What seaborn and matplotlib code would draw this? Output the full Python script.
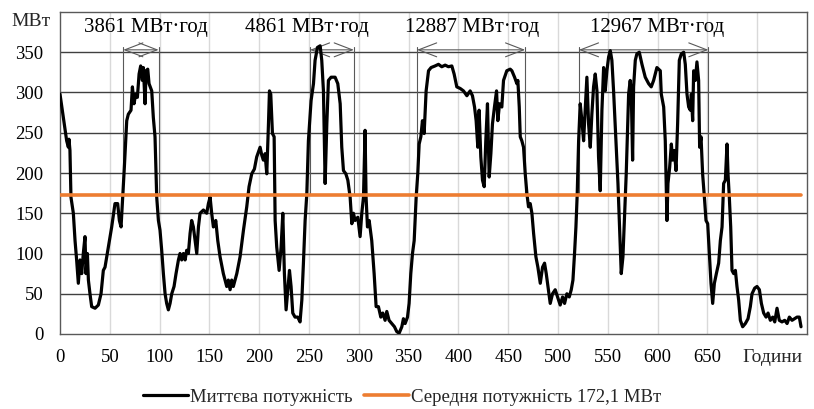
import numpy as np
import pandas as pd
import matplotlib
matplotlib.use("Agg")
import matplotlib.pyplot as plt
import seaborn as sns

# Hourly generation power over the month (hour, MW)
hours = [
    0, 3.4, 6.7, 8.4, 9, 10, 11, 13.4, 15.1, 16.7, 18.4, 20.1, 21.8, 23.4, 25.1, 26.1, 27.5, 28.5,
    30.1, 31.8, 35.2, 38.5, 41.2, 43.5, 45.2, 47.5, 49.2, 51.9, 55.2, 57.9, 59.6, 61.3, 63, 64.6,
    67, 68.6, 71.3, 72.7, 74.3, 76, 77.7, 79.4, 81, 82.7, 83.7, 85.4, 86.4, 88.1, 89.4, 92.1, 93.7,
    95.4, 97.1, 98.8, 100.4, 102.1, 103.8, 105.5, 107.1, 108.8, 110.5, 112.2, 114.5, 116.5, 118.9,
    120.5, 122.2, 123.9, 125.6, 127.2, 128.9, 130.6, 132.2, 133.9, 135.6, 137.3, 139, 140.6, 144,
    147.3, 149, 150.7,
    152.3, 154, 156.4, 158.4, 160.7, 164, 167.4, 169, 170.8, 172.4, 174, 177.5, 180.8, 184.2, 187.5,
    189.8, 192.5, 195.2, 197.5, 200.9, 202.6, 204.2, 205.9, 207.6, 209.3, 210.3, 211.6, 213.3, 215,
    216, 217.6, 220, 222, 223.7, 225.3, 227, 228.7, 230.4, 232, 233.7, 236, 238.7, 241, 242.8, 244.4,
    246.1, 247.8, 249.4, 252.1, 254.5, 256.1, 258.5, 261.2, 262.8, 264.5, 266.2, 267.9, 269.5, 272.2,
    276.2, 278.9, 281.3, 282.9, 284.6, 287, 289, 291.3, 293, 294.6, 296.3,
    299, 301.3, 303, 304.7, 306.3, 307.3, 308.7, 310.4, 313, 315.4, 317.4, 319.7, 322.1, 324.1, 326.4,
    328.1, 330.4, 333.1, 335.8, 338.1, 340.5, 343.2, 344.8, 346.5, 348.9, 350.5, 352.2, 353.9, 355.6,
    357.6, 359.2, 360.6, 362.3, 363.9, 365.6, 367.6, 370, 372.6, 376.6, 380, 383.3, 386.7, 390, 393.4,
    395.7, 398.4, 401.8, 405.1, 408.5, 411.8, 414.1, 416.2, 417.8, 419.5, 420.8, 422.5, 424.2, 425.9,
    427.5, 429.2, 430.9, 432.6, 434.2, 436.2, 438.3, 439.6, 441.3, 443.6, 445.3, 448.6, 452,
    453.7, 456.4, 458.7, 459.7, 461.1, 462.1, 463.7, 465.4, 467.1, 468.8, 470.4, 472.1, 473.8, 475.5,
    477.8, 479.8, 482.2, 484.5, 486.5, 488.2, 489.9, 492.2, 494.5, 497.2, 499.6, 502.2, 504.6, 506.6,
    508.9, 511.3, 513.3, 515, 516.6, 518, 519.3, 520.7, 522.3, 524, 525.7, 527.4, 529, 530.7, 532.4,
    534, 535.7, 537.4, 539.1, 540.7, 542.4, 544.1, 545.8, 547.4, 549.1, 550.8, 552.5, 554.1, 555.8,
    558.2, 560.2, 561.8, 563.5, 565.2, 566.9, 568.5, 570.9, 572.5, 573.6, 574.9, 575.9, 577.6, 579.2,
    581.6, 584.3, 587.6, 591, 593.6, 596, 599.3, 602.7,
    603.7, 606.1, 607.7, 609.4, 610.4, 612.1, 613.8, 615.1, 616.8, 618.5, 620.1, 621.8, 623.8, 626.2,
    627.8, 629.5, 631.2, 632.9, 633.9, 635.2, 636.2, 637.9, 639.5, 641.2, 642.2, 643.6, 645.2, 647.2,
    648.6, 650.3, 651.9, 653.6, 655.3, 657, 659, 661.3, 663, 664.7, 666.3, 668, 669.7, 670.7, 672,
    673.4, 674.7, 676.4, 678.1, 679.7, 681.4, 683.1, 685.4, 688.1, 690.8, 693.1, 694.8, 697.5, 699.8,
    702.2, 704.2, 706.5, 708.9, 710.9, 713.2, 715.6, 717.6, 719.9, 722.2, 724.9, 727.6, 730, 732.3,
    735, 737.6, 740, 742.3, 744,
]
power_mw = [
    298, 269, 240, 232, 242, 228, 170, 150, 116, 92, 63, 92, 75, 100, 121, 75, 100, 67,
    50, 34, 32, 36, 50, 79, 83, 100, 112, 133, 162, 162, 141, 133, 170, 207,
    265, 273, 278, 307, 286, 298, 294, 323, 333, 315, 331, 286, 327, 329, 311, 302, 269,
    245, 170, 141, 129, 104, 75, 50, 38, 30, 38, 50, 59, 75, 92,
    100, 92, 100, 92, 104, 100, 125, 141, 133, 116, 100, 133, 150, 154,
    150, 162, 170,
    150, 133, 141, 116, 96, 75, 59, 67, 55, 67, 59, 75, 96, 129, 158,
    183, 199, 205, 220, 232, 222, 216, 224, 199, 261, 302, 298, 249, 245,
    141, 108, 79, 108, 150, 75, 30, 55, 79, 59, 26, 21, 21, 15, 42, 88,
    141, 174, 240, 290, 311, 340, 356, 358, 340, 302, 187, 261, 315, 319,
    319, 311, 286, 232, 203, 199, 191, 170, 137, 150, 141,
    145, 121, 150, 170, 253, 170, 133, 141, 116, 75, 34, 34, 21, 26, 17,
    28, 17, 13, 9, 3, 1, 9, 19, 13, 21, 38, 75, 100, 116,
    170, 199, 236, 245, 265, 249, 302, 327, 331, 333, 335, 332, 334, 332, 333,
    323, 307, 305, 302, 296, 302, 296, 282, 265, 232, 278, 220, 191, 183,
    240, 286, 195, 224, 261, 282, 302, 265, 286, 282, 315, 327, 329,
    327, 319, 311, 315, 282, 245, 240, 232, 199, 174, 158, 162, 150, 125,
    96, 83, 63, 83, 88, 75, 59, 38, 50, 55, 46, 36, 46, 38,
    50, 46, 55, 67, 100, 133, 174, 240, 286, 265, 240, 282, 319, 261, 232,
    273, 307, 323, 302, 220, 178, 278, 331, 302, 327, 344, 352, 340, 302,
    240, 187, 133, 75, 96, 150, 199, 298, 315, 298, 216, 307, 340, 348,
    350, 335, 319, 311, 307, 315, 331, 327,
    298, 282, 240, 141, 187, 207, 236, 216, 228, 203, 261, 340, 348, 350,
    335, 298, 282, 278, 298, 265, 327, 315, 338, 315, 232, 245, 199, 166,
    141, 137, 100, 63, 38, 63, 75, 88, 116, 133, 187, 191, 236, 199, 170,
    133, 79, 75, 79, 59, 42, 17, 9, 13, 19, 34, 50, 57, 59,
    55, 38, 26, 21, 26, 17, 21, 15, 32, 17, 15, 17, 13, 21,
    17, 19, 21, 21, 9,
]

# Average power over the month
mean_mw = 172.1

# Periods of above-average output and the energy produced in each
period_start = [63.5, 251, 358.5, 521]
period_end = [99, 295, 467, 651]
period_energy = [3861, 4861, 12887, 12967]
label_hour = [86, 248, 414, 599]

x_ticks = list(range(0, 700, 50))
y_ticks = list(range(0, 400, 50))

sns.set_style("white")
plt.rcParams["font.family"] = ["Liberation Serif", "DejaVu Serif"]

fig = plt.figure(figsize=(8.14, 4.09), dpi=100)
ax = fig.add_axes([60 / 814, 1 - 334 / 409, 747 / 814, 322 / 409])

df = pd.DataFrame({"hour": hours, "power": power_mw})
df_mean = pd.DataFrame({"hour": [hours[0], hours[-1]], "power": [mean_mw, mean_mw]})

sns.lineplot(data=df, x="hour", y="power", ax=ax, color="black", lw=2.3,
             estimator=None, sort=False, label="Миттєва потужність", zorder=4)
sns.lineplot(data=df_mean, x="hour", y="power", ax=ax, color="#ED7D31", lw=2.6,
             estimator=None, sort=False,
             label=f"Середня потужність {mean_mw:.1f}".replace(".", ",") + " МВт", zorder=5)

ax.set_xlim(0, 750)
ax.set_ylim(0, 400)
ax.set_xticks(x_ticks)
ax.set_yticks(y_ticks)
ax.tick_params(axis="both", length=0, labelsize=13.5, colors="black")
ax.tick_params(axis="y", pad=12)
ax.tick_params(axis="x", pad=11)
ax.set_xlabel("")
ax.set_ylabel("")

# Grid: light verticals, dark horizontals
for xv in x_ticks[1:] + [700]:
    ax.axvline(xv, color="#d9d9d9", lw=1.0, zorder=1)
for yv in y_ticks[1:]:
    ax.axhline(yv, color="#404040", lw=1.0, zorder=1)
for s in ax.spines.values():
    s.set_color("#595959")
    s.set_linewidth(1.0)

# Brackets marking each high-output period
arrow_y = 353
for x0, x1, e, lx in zip(period_start, period_end, period_energy, label_hour):
    for xv in (x0, x1):
        ax.plot([xv, xv], [mean_mw, 357], color="#595959", lw=0.8, zorder=3)
    ax.annotate("", xy=(x0, arrow_y), xytext=(x1, arrow_y),
                arrowprops=dict(arrowstyle="<->,head_length=1.3,head_width=0.5",
                                color="#595959", lw=0.8, shrinkA=0, shrinkB=0,
                                mutation_scale=10), zorder=3)
    ax.text(lx, 381, f"{e} МВт·год", ha="center", va="center", fontsize=15,
            color="black", zorder=6)

fig.text(31 / 814, 1 - 22 / 409, "МВт", ha="center", va="center", fontsize=14)
fig.text(772 / 814, 1 - 358 / 409, "Години", ha="center", va="center", fontsize=14)

ax.get_legend().remove()
handles, labels = ax.get_legend_handles_labels()
fig.legend(handles, labels, loc="center", bbox_to_anchor=(402 / 814, 1 - 397 / 409),
           ncol=2, frameon=False, fontsize=13.5, handlelength=2.4, handletextpad=0.1,
           columnspacing=0.6, borderpad=0)

fig.savefig("out.png", dpi=100)
